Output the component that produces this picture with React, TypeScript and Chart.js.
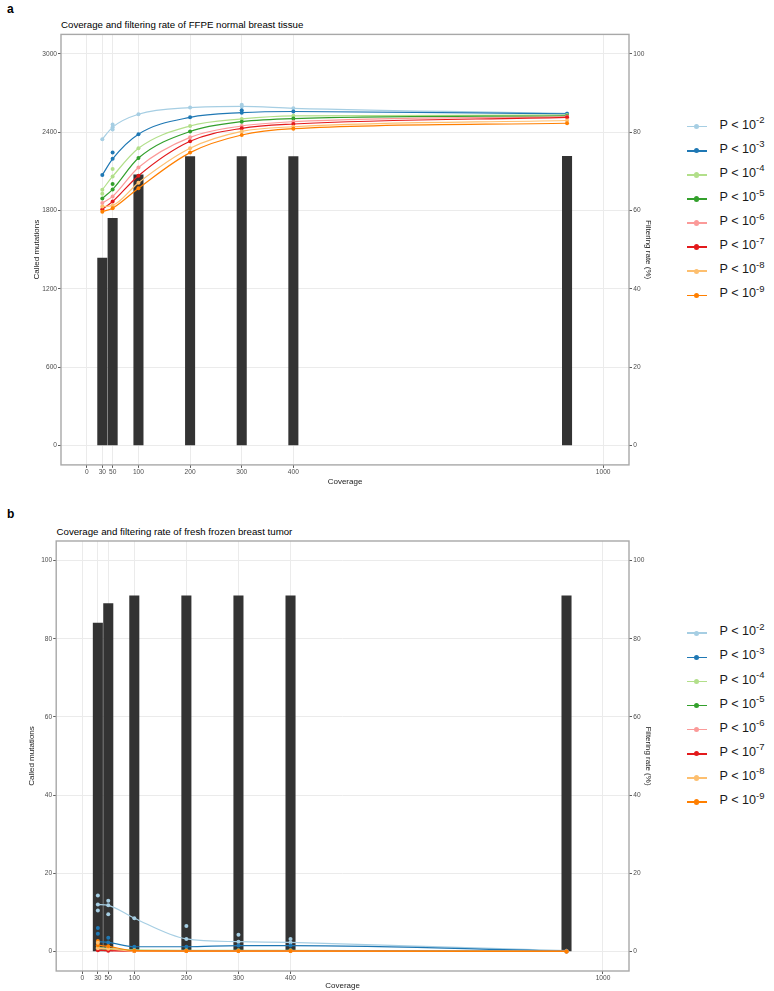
import React, { useEffect, useRef } from 'react';
import { Chart, registerables } from 'chart.js';

Chart.register(...registerables);

// ---------- data ----------
const coverage = [30, 50, 100, 200, 300, 400, 930];
const coverageTicks = [0, 30, 50, 100, 200, 300, 400, 1000];
const calledTicksFFPE = [0, 600, 1200, 1800, 2400, 3000];
const calledTicksFrozen = [0, 20, 40, 60, 80, 100];
const rateTicks = [0, 20, 40, 60, 80, 100];
const pExponents = ['-2', '-3', '-4', '-5', '-6', '-7', '-8', '-9'];
const seriesColors = ['#A6CEE3', '#1F78B4', '#B2DF8A', '#33A02C', '#FB9A99', '#E31A1C', '#FDBF6F', '#FF7F00'];

// (a) FFPE normal breast tissue
const ffpeCalled = [1435, 1741, 2073, 2214, 2214, 2214, 2215];
const ffpeRateP2 = [78.2, 81.3, 84.6, 86.3, 86.6, 86.1, 84.8];
const ffpeRateP3 = [69.1, 73.2, 79.5, 83.8, 85.0, 85.3, 84.7];
const ffpeRateP4 = [65.3, 68.7, 75.9, 81.6, 83.4, 84.2, 84.4];
const ffpeRateP5 = [63.1, 65.4, 73.4, 80.2, 82.7, 83.5, 84.2];
const ffpeRateP6 = [61.9, 63.6, 71.0, 78.7, 81.6, 82.7, 84.0];
const ffpeRateP7 = [60.3, 62.3, 68.9, 77.7, 81.0, 82.1, 83.8];
const ffpeRateP8 = [61.0, 61.3, 67.1, 75.9, 80.2, 81.4, 83.0];
const ffpeRateP9 = [59.7, 60.6, 65.7, 74.8, 79.3, 80.9, 82.3];
const ffpeRates = [ffpeRateP2, ffpeRateP3, ffpeRateP4, ffpeRateP5, ffpeRateP6, ffpeRateP7, ffpeRateP8, ffpeRateP9];
// replicate observations: [series index, coverage, rate]
const ffpeReplicates = [
  [0, 50, 82.0], [0, 50, 80.7], [1, 50, 74.8], [2, 30, 64.3],
  [2, 50, 70.6], [3, 50, 66.8], [1, 300, 85.6], [0, 300, 87.0],
];

// (b) fresh frozen breast tumor
const frozenCalled = [84, 89, 91, 91, 91, 91, 91];
const frozenRateP2 = [12.0, 11.8, 8.5, 3.2, 2.5, 2.3, 0.2];
const frozenRateP3 = [2.5, 2.3, 1.2, 1.2, 1.5, 1.5, 0.1];
const frozenRateP4 = [1.0, 0.8, 0.4, 0.3, 0.3, 0.3, 0.0];
const frozenRateP5 = [0.6, 0.5, 0.2, 0.2, 0.2, 0.2, 0.0];
const frozenRateP6 = [0.4, 0.3, 0.1, 0.1, 0.1, 0.1, 0.0];
const frozenRateP7 = [0.3, 0.2, 0.1, 0.1, 0.1, 0.1, 0.0];
const frozenRateP8 = [0.8, 0.7, 0.1, 0.1, 0.1, 0.1, 0.0];
const frozenRateP9 = [1.6, 1.3, 0.2, 0.1, 0.1, 0.1, 0.0];
const frozenRates = [frozenRateP2, frozenRateP3, frozenRateP4, frozenRateP5, frozenRateP6, frozenRateP7, frozenRateP8, frozenRateP9];
const frozenReplicates = [
  [0, 30, 14.3], [0, 30, 10.5], [0, 50, 13.0], [0, 50, 9.5], [0, 200, 6.5],
  [0, 300, 4.3], [0, 400, 3.2], [1, 30, 6.0], [1, 30, 4.5], [1, 50, 3.5],
  [7, 30, 2.7], [6, 30, 2.2],
];

// ---------- chart ----------
const fontFamily = '"Liberation Sans", Arial, Helvetica, sans-serif';

const panelBorder = {
  id: 'panelBorder',
  afterDatasetsDraw(chart: any) {
    const { ctx, chartArea: a } = chart;
    ctx.save();
    ctx.strokeStyle = '#a8a8a8';
    ctx.lineWidth = 1.4;
    ctx.strokeRect(a.left, a.top, a.right - a.left, a.bottom - a.top);
    ctx.restore();
  },
};

type PanelSpec = {
  called: number[];
  rates: number[][];
  reps: number[][];
  yMin: number;
  yMax: number;
  yTicks: number[];
  width: number;
  height: number;
  areaLeft: number;
  areaRight: number;
  areaTop: number;
  areaBottom: number;
  leftTitleX: number;
  rightTitleX: number;
  xTitleY: number;
};

function buildConfig(p: PanelSpec): any {
  const tickFont = { family: fontFamily, size: 6.6 };
  const titleFont = { family: fontFamily, size: 8 };
  const half = 4.8;
  const datasets: any[] = [];
  datasets.push({
    type: 'bar',
    data: coverage.map((x, i) => ({ x, y: p.called[i] })),
    backgroundColor: '#333333',
    borderWidth: 0,
    barThickness: 9.4,
    yAxisID: 'y',
    xAxisID: 'x',
    order: 100,
  });
  p.rates.forEach((r, s) => {
    datasets.push({
      type: 'line',
      data: coverage.map((x, i) => ({ x, y: r[i] })),
      borderColor: seriesColors[s],
      backgroundColor: seriesColors[s],
      borderWidth: 1.2,
      pointRadius: 2,
      pointBorderWidth: 0,
      cubicInterpolationMode: 'monotone',
      yAxisID: 'y2',
      xAxisID: 'x',
      order: 20 - s,
    });
  });
  datasets.push({
    type: 'line',
    showLine: false,
    data: p.reps.map((d) => ({ x: d[1], y: d[2] })),
    pointBackgroundColor: p.reps.map((d) => seriesColors[d[0]]),
    pointBorderWidth: 0,
    pointRadius: 2,
    yAxisID: 'y2',
    xAxisID: 'x',
    order: 1,
  });

  const gridCommon = {
    color: '#EBEBEB',
    lineWidth: 1,
    tickColor: '#333333',
    tickLength: 3,
    tickWidth: 0.8,
    drawTicks: true,
  };

  return {
    type: 'line',
    data: { datasets },
    plugins: [panelBorder],
    options: {
      responsive: false,
      animation: false,
      devicePixelRatio: 1,
      events: [],
      layout: { padding: { top: p.areaTop, left: 0, right: 0, bottom: 0 } },
      plugins: { legend: { display: false }, tooltip: { enabled: false }, title: { display: false } },
      scales: {
        x: {
          type: 'linear',
          position: 'bottom',
          min: -50,
          max: 1050,
          offset: false,
          afterBuildTicks: (ax: any) => { ax.ticks = coverageTicks.map((v) => ({ value: v })); },
          afterFit: (ax: any) => { ax.height = p.height - p.areaBottom; },
          grid: { ...gridCommon, offset: false },
          border: { display: false },
          ticks: { font: tickFont, color: '#4D4D4D', padding: 0, autoSkip: false, maxRotation: 0, callback: (v: any) => String(v) },
          title: { display: true, text: 'Coverage', font: titleFont, color: '#1A1A1A', padding: { top: 0, bottom: Math.max(0, p.height - p.xTitleY - half) } },
        },
        y: {
          type: 'linear',
          position: 'left',
          min: p.yMin,
          max: p.yMax,
          afterBuildTicks: (ax: any) => { ax.ticks = p.yTicks.map((v) => ({ value: v })); },
          afterFit: (ax: any) => { ax.width = p.areaLeft; },
          grid: gridCommon,
          border: { display: false },
          ticks: { font: tickFont, color: '#4D4D4D', padding: 1, callback: (v: any) => String(v) },
          title: { display: true, text: 'Called mutations', font: titleFont, color: '#1A1A1A', padding: { top: p.leftTitleX - half, bottom: 0 } },
        },
        y2: {
          type: 'linear',
          position: 'right',
          min: -5,
          max: 105,
          afterBuildTicks: (ax: any) => { ax.ticks = rateTicks.map((v) => ({ value: v })); },
          afterFit: (ax: any) => { ax.width = p.width - p.areaRight; },
          grid: { ...gridCommon, drawOnChartArea: false },
          border: { display: false },
          ticks: { font: tickFont, color: '#4D4D4D', padding: 1.3, callback: (v: any) => String(v) },
          title: { display: true, text: 'Filtering rate (%)', font: titleFont, color: '#1A1A1A', padding: { top: p.width - p.rightTitleX - half, bottom: 0 } },
        },
      },
    },
  };
}

function Panel({ spec, top }: { spec: PanelSpec; top: number }) {
  const ref = useRef<HTMLCanvasElement | null>(null);
  useEffect(() => {
    if (!ref.current) return;
    const chart = new Chart(ref.current, buildConfig(spec));
    return () => chart.destroy();
  }, []);
  return (
    <canvas
      ref={ref}
      width={spec.width}
      height={spec.height}
      style={{ position: 'absolute', left: 0, top, width: spec.width, height: spec.height }}
    />
  );
}

function Legend({ firstY }: { firstY: number }) {
  return (
    <>
      {pExponents.map((e, i) => {
        const cy = firstY + i * 24.1;
        const c = seriesColors[i];
        return (
          <div key={i} style={{ position: 'absolute', left: 686.5, top: cy - 10, width: 90, height: 20 }}>
            <div style={{ position: 'absolute', left: 0, top: 9.2, width: 20, height: 1.6, background: c }} />
            <div style={{ position: 'absolute', left: 7.3, top: 7.3, width: 5.4, height: 5.4, borderRadius: '50%', background: c }} />
            <div
              style={{
                position: 'absolute', left: 33, top: 1, height: 20, lineHeight: '20px',
                font: `12.6px ${fontFamily}`, color: '#1A1A1A', whiteSpace: 'nowrap',
              }}
            >
              P &lt; 10
              <span style={{ fontSize: 9.5, position: 'relative', top: -5.5 }}>{e}</span>
            </div>
          </div>
        );
      })}
    </>
  );
}

const topSpec: PanelSpec = {
  called: ffpeCalled, rates: ffpeRates, reps: ffpeReplicates,
  yMin: -150, yMax: 3150, yTicks: calledTicksFFPE,
  width: 660, height: 495,
  areaLeft: 61, areaRight: 629, areaTop: 34.4, areaBottom: 464.9,
  leftTitleX: 36.7, rightTitleX: 648, xTitleY: 482,
};

const bottomTop = 500;
const bottomSpec: PanelSpec = {
  called: frozenCalled, rates: frozenRates, reps: frozenReplicates,
  yMin: -5, yMax: 105, yTicks: calledTicksFrozen,
  width: 660, height: 491,
  areaLeft: 56.2, areaRight: 629, areaTop: 41, areaBottom: 471,
  leftTitleX: 31.9, rightTitleX: 648, xTitleY: 486.2,
};

export default function App() {
  const titleStyle: React.CSSProperties = {
    position: 'absolute', font: `9.7px ${fontFamily}`, color: '#000', whiteSpace: 'nowrap', lineHeight: '12px',
  };
  const tagStyle: React.CSSProperties = {
    position: 'absolute', left: 7, font: `bold 12px ${fontFamily}`, color: '#000', lineHeight: '14px',
  };
  return (
    <div style={{ position: 'fixed', left: 0, top: 0, width: 774, height: 991, background: '#fff', overflow: 'hidden' }}>
      <div style={{ ...tagStyle, top: 2 }}>a</div>
      <div style={{ ...tagStyle, top: 507 }}>b</div>
      <div style={{ ...titleStyle, left: 61, top: 19 }}>Coverage and filtering rate of FFPE normal breast tissue</div>
      <div style={{ ...titleStyle, left: 56.5, top: 526 }}>Coverage and filtering rate of fresh frozen breast tumor</div>
      <Panel spec={topSpec} top={0} />
      <Panel spec={bottomSpec} top={bottomTop} />
      <Legend firstY={126.7} />
      <Legend firstY={633.3} />
    </div>
  );
}
